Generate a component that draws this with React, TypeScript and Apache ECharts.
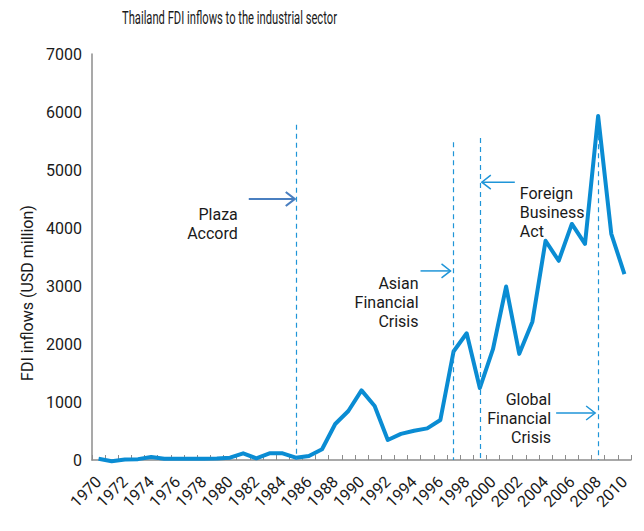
import React, { useEffect, useRef } from "react";
import * as echarts from "echarts";

const years: string[] = [];
for (let y = 1970; y <= 2010; y++) years.push(String(y));

const fdi: number[] = [
  20, -20, 10, 15, 50, 20, 20, 20, 20, 25,
  40, 115, 30, 115, 115, 40, 70, 185, 620, 845,
  1200, 930, 345, 450, 505, 545, 690, 1870, 2185, 1240,
  1910, 2990, 1830, 2385, 3780, 3435, 4070, 3725, 5930, 3900,
  3205,
];

const yTicks = { min: 0, max: 7000, interval: 1000 };

const events = [
  { year: "1985", top: 5780, label: "Plaza\nAccord" },
  { year: "1997", top: 5480, label: "Asian\nFinancial\nCrisis" },
  { year: "1999", top: 5550, label: "Foreign\nBusiness\nAct" },
  { year: "2008", top: 5600, label: "Global\nFinancial\nCrisis" },
];

const TITLE = "Thailand FDI inflows to the industrial sector";

const FONT = "Roboto, sans-serif";
const LINE_BLUE = "#0a8cd3";
const DASH_BLUE = "#1f95d8";
const TEXT = "#1a1a1a";

export default function App() {
  const ref = useRef<HTMLDivElement>(null);
  useEffect(() => {
    if (!ref.current) return;
    const chart = echarts.init(ref.current, undefined, { renderer: "svg" });
    chart.setOption({
      animation: false,
      backgroundColor: "#ffffff",
      grid: { left: 84, right: 13, top: 46, bottom: 71, containLabel: false },
      xAxis: {
        type: "category",
        data: years,
        boundaryGap: true,
        axisLine: { lineStyle: { color: "#8c8c8c", width: 1.5 } },
        axisTick: { show: true, inside: true, length: 5, interval: 0, lineStyle: { color: "#8c8c8c" } },
        axisLabel: {
          interval: 1,
          rotate: 45,
          margin: 19,
          fontFamily: FONT,
          fontSize: 16,
          color: TEXT,
        },
        splitLine: { show: false },
      },
      yAxis: {
        type: "value",
        min: yTicks.min,
        max: yTicks.max,
        interval: yTicks.interval,
        name: "FDI inflows (USD million)",
        nameLocation: "middle",
        nameGap: 50,
        nameTextStyle: { fontFamily: FONT, fontSize: 16, color: TEXT, padding: [0, 72, 0, 0] },
        axisLine: { show: true, lineStyle: { color: "#8c8c8c", width: 1.5 } },
        axisTick: { show: false },
        axisLabel: {
          fontFamily: FONT,
          fontSize: 16,
          color: TEXT,
          margin: 10,
          formatter: (v: number) => String(v),
        },
        splitLine: { show: false },
      },
      series: [
        {
          type: "line",
          data: fdi,
          showSymbol: false,
          symbol: "none",
          lineStyle: { color: LINE_BLUE, width: 4, join: "round" },
          itemStyle: { color: LINE_BLUE },
          clip: false,
          markLine: {
            silent: true,
            symbol: ["none", "none"],
            label: { show: false },
            lineStyle: { color: DASH_BLUE, width: 1.2, type: [5, 4] },
            data: events.map((e) => [
              { coord: [e.year, e.top] },
              { coord: [e.year, 0] },
            ]),
          },
        },
      ],
    });

    const px = (year: string, v: number) =>
      chart.convertToPixel({ xAxisIndex: 0, yAxisIndex: 0 }, [year, v]) as number[];

    const arrow = (x1: number, x2: number, y: number, color: string, w: number) => {
      const dir = x2 > x1 ? 1 : -1;
      return [
        { type: "line", shape: { x1, y1: y, x2, y2: y }, style: { stroke: color, lineWidth: w } },
        {
          type: "polyline",
          shape: { points: [[x2 - dir * 9, y - 7], [x2, y], [x2 - dir * 9, y + 7]] },
          style: { stroke: color, lineWidth: w, fill: "none" },
        },
      ];
    };
    const txt = (x: number, y: number, text: string, align: string) => ({
      type: "text",
      x,
      y,
      style: {
        text,
        align,
        verticalAlign: "top",
        fontFamily: FONT,
        fontSize: 16,
        lineHeight: 19,
        fill: TEXT,
      },
    });

    // condense title to the reference's width
    let titleScale = 0.62;
    try {
      const ctx = document.createElement("canvas").getContext("2d");
      if (ctx) {
        ctx.font = "19px Roboto";
        const w = ctx.measureText(TITLE).width;
        if (w > 0) titleScale = 215 / w;
      }
    } catch (e) {}

    const p0 = px("1985", 4500);
    const p1 = px("1997", 3260);
    const p2 = px("1999", 4790);
    const p3 = px("2008", 810);
    const elements: any[] = [
      {
        type: "text",
        x: 114,
        y: 0,
        scaleX: titleScale,
        style: { text: TITLE, fontFamily: FONT, fontSize: 19, fill: TEXT, verticalAlign: "top" },
      },
      ...arrow(p0[0] - 47, p0[0] - 1, p0[1], "#4a7fc0", 2.2),
      txt(p0[0] - 58, p0[1] + 6, events[0].label, "right"),
      ...arrow(p1[0] - 33, p1[0] - 3, p1[1], DASH_BLUE, 1.5),
      txt(p1[0] - 35, p1[1] + 3, events[1].label, "right"),
      ...arrow(p2[0] + 35, p2[0] + 2, p2[1], DASH_BLUE, 1.5),
      txt(p2[0] + 40, p2[1] + 2, events[2].label, "left"),
      ...arrow(p3[0] - 42, p3[0] - 3, p3[1], DASH_BLUE, 1.5),
      txt(p3[0] - 47, p3[1] - 23, events[3].label, "right"),
    ];
    chart.setOption({ graphic: { elements } });

    return () => chart.dispose();
  }, []);
  return <div ref={ref} style={{ width: 636, height: 523 }} />;
}
